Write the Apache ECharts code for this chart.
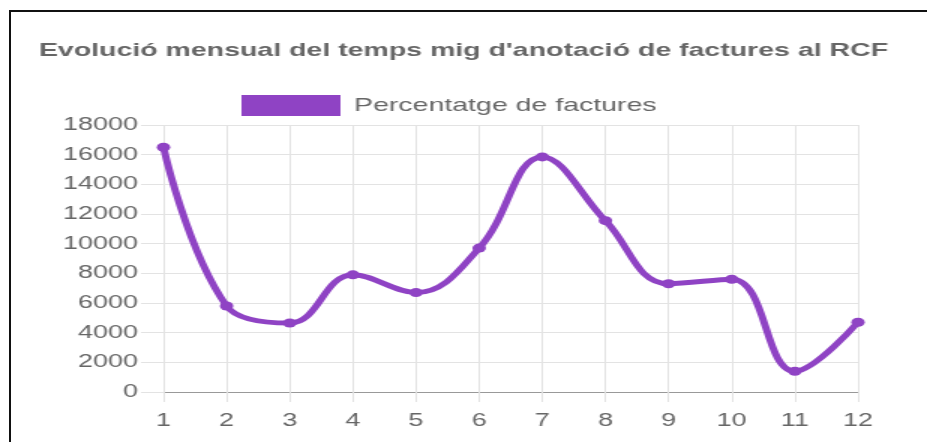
<!DOCTYPE html>
<html>
<head>
<meta charset="utf-8">
<script src="https://cdn.jsdelivr.net/npm/echarts@6/dist/echarts.min.js"></script>
<style>
    body { margin: 0; background: #fff; overflow: hidden; }
    #frame { position: absolute; left: 9px; top: 10px; width: 930px; height: 440px;
             border-left: 2px solid #111; border-top: 2px solid #111; }
    /* the source picture is stretched sideways, so the chart is too */
    #chart { position: absolute; left: 0; top: 0; width: 618px; height: 442px;
             transform: scaleX(1.5); transform-origin: 0 0; }
</style>
</head>
<body>
<div id="frame"></div>
<div id="chart"></div>
<script>
// mesos
var mesos = ['1', '2', '3', '4', '5', '6', '7', '8', '9', '10', '11', '12'];
// valors de la serie
var valors = [16500, 5800, 4650, 7900, 6700, 9700, 15850, 11550, 7300, 7600, 1400, 4700];
var nomSerie = 'Percentatge de factures';
var titol = "Evolució mensual del temps mig d'anotació de factures al RCF";

var color = '#8f43c4';
var gris = '#666666';

var chart = echarts.init(document.getElementById('chart'), null, {renderer: 'canvas'});
var option = {
    animation: false,
    backgroundColor: 'transparent',
    title: {
        text: titol,
        left: 'center',
        top: 36,
        textStyle: {
            color: gris,
            fontSize: 19,
            fontWeight: 'bold',
            fontFamily: 'Liberation Sans'
        }
    },
    legend: {
        data: [nomSerie],
        top: 90,
        left: 156,
        icon: 'rect',
        itemWidth: 66,
        itemHeight: 21,
        itemGap: 10,
        textStyle: {
            color: gris,
            fontSize: 19,
            padding: [0, 0, 0, 4],
            fontFamily: 'Liberation Sans'
        }
    },
    grid: {
        left: 109,
        right: 46,
        top: 125,
        bottom: 50,
        containLabel: false
    },
    xAxis: {
        type: 'category',
        boundaryGap: false,
        data: mesos,
        axisLine: { show: true, lineStyle: { color: '#999', width: 1 } },
        axisTick: { show: true, length: 10, lineStyle: { color: '#e3e3e3' } },
        axisLabel: { color: gris, fontSize: 18, margin: 20, fontFamily: 'Liberation Sans' },
        splitLine: { show: true, lineStyle: { color: '#e3e3e3', width: 1 } }
    },
    yAxis: {
        type: 'value',
        min: 0,
        max: 18000,
        interval: 2000,
        axisLine: { show: false },
        axisTick: { show: true, length: 15, lineStyle: { color: '#e3e3e3' } },
        axisLabel: {
            color: gris, fontSize: 18, margin: 17, fontFamily: 'Liberation Sans',
            formatter: function(v){ return String(v); }
        },
        splitLine: { show: true, lineStyle: { color: '#e3e3e3', width: 1 } }
    },
    series: [{
        name: nomSerie,
        type: 'line',
        data: valors,
        smooth: 0.4,
        symbol: 'circle',
        symbolSize: 9,
        lineStyle: { color: color, width: 5 },
        itemStyle: { color: color }
    }]
};
chart.setOption(option);
</script>
</body>
</html>
